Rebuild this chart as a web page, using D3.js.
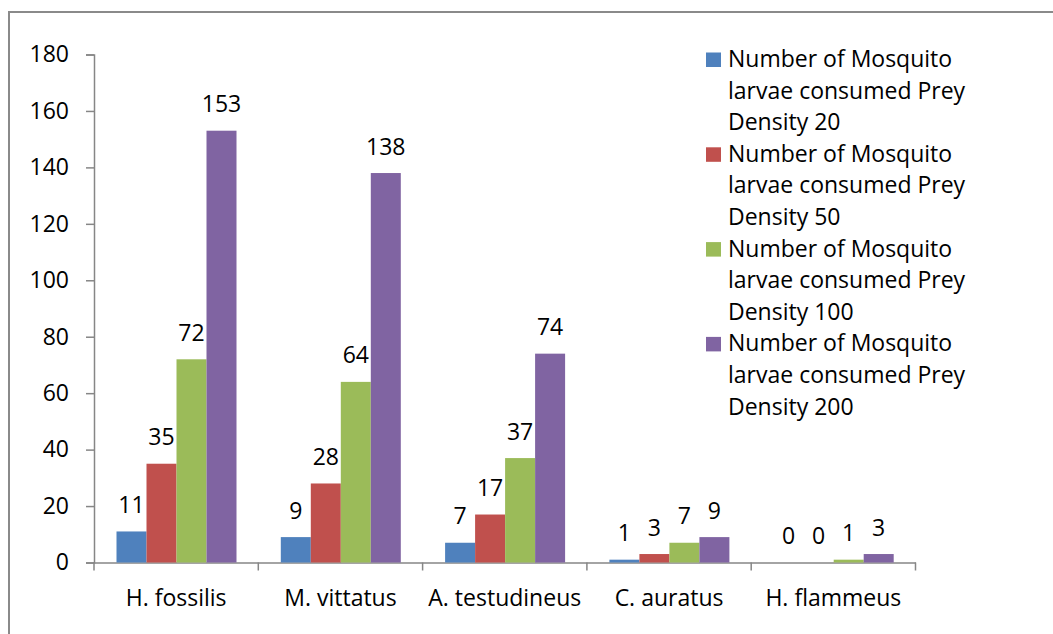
<!DOCTYPE html>
<html>
<head>
<meta charset="utf-8">
<script src="https://cdn.jsdelivr.net/npm/d3@7"></script>
<style>
  body { margin: 0; background: #fff; }
  text { font-family: "Open Sans", sans-serif; fill: #000; }
</style>
</head>
<body>
<script>
// chart data
var species = ["H. fossilis", "M. vittatus", "A. testudineus", "C. auratus", "H. flammeus"];
var seriesNames = [
  "Number of Mosquito larvae consumed Prey Density 20",
  "Number of Mosquito larvae consumed Prey Density 50",
  "Number of Mosquito larvae consumed Prey Density 100",
  "Number of Mosquito larvae consumed Prey Density 200"
];
var density20 = [11, 9, 7, 1, 0];
var density50 = [35, 28, 17, 3, 0];
var density100 = [72, 64, 37, 7, 1];
var density200 = [153, 138, 74, 9, 3];
var yTicks = [0, 20, 40, 60, 80, 100, 120, 140, 160, 180];

var colors = ["#4F81BD", "#C0504D", "#9BBB59", "#8064A2"];
var seriesValues = [density20, density50, density100, density200];

var svgWidth = 1053, svgHeight = 634;
var svg = d3.select("body").append("svg")
  .attr("width", svgWidth)
  .attr("height", svgHeight);

// outer frame (only top and left edges visible)
svg.append("path")
  .attr("d", "M9,634V12H1053")
  .attr("fill", "none")
  .attr("stroke", "#8a8a8a")
  .attr("stroke-width", 2);

var plot = { left: 94, right: 915.5, top: 54.5, bottom: 562.5 };

var x0 = d3.scaleBand().domain(species).range([plot.left, plot.right]);
var x1 = d3.scaleBand().domain(d3.range(4)).range([22.5, 142.5]);
var y = d3.scaleLinear().domain([0, 180]).range([plot.bottom, plot.top]);

var fontSize = 23;

// y axis
var yAxis = svg.append("g")
  .attr("transform", `translate(${plot.left},0)`)
  .call(d3.axisLeft(y).tickValues(yTicks).tickSize(8).tickPadding(17));
yAxis.select(".domain").attr("stroke", "#868686").attr("stroke-width", 1.5);
yAxis.selectAll(".tick line").attr("stroke", "#868686").attr("stroke-width", 1.5);
yAxis.selectAll(".tick text")
  .style("font-family", "'Open Sans', sans-serif")
  .style("font-size", fontSize + "px")
  .attr("fill", "#000");

// x axis
var xAxis = svg.append("g")
  .attr("transform", `translate(0,${plot.bottom})`)
  .call(d3.axisBottom(x0).tickSize(0).tickPadding(0));
xAxis.select(".domain").attr("stroke", "#868686").attr("stroke-width", 1.5);
xAxis.selectAll(".tick text")
  .attr("y", 0)
  .attr("dy", "43px")
  .style("font-family", "'Open Sans', sans-serif")
  .style("font-size", fontSize + "px")
  .attr("fill", "#000");
// category separators
xAxis.selectAll(".sep")
  .data(d3.range(species.length + 1))
  .enter().append("line")
  .attr("x1", i => plot.left + i * x0.step())
  .attr("x2", i => plot.left + i * x0.step())
  .attr("y1", 0).attr("y2", 8)
  .attr("stroke", "#868686").attr("stroke-width", 1.5);

// bars
var groups = svg.selectAll(".group")
  .data(species)
  .enter().append("g")
  .attr("transform", d => `translate(${x0(d)},0)`);

groups.selectAll("rect")
  .data((d, i) => seriesValues.map((s, k) => ({ k: k, v: s[i] })))
  .enter().append("rect")
  .attr("x", d => x1(d.k))
  .attr("width", x1.bandwidth())
  .attr("y", d => y(d.v))
  .attr("height", d => y(0) - y(d.v))
  .attr("fill", d => colors[d.k]);

groups.selectAll(".lbl")
  .data((d, i) => seriesValues.map((s, k) => ({ k: k, v: s[i] })))
  .enter().append("text")
  .attr("class", "lbl")
  .attr("x", d => x1(d.k) + x1.bandwidth() / 2)
  .attr("y", d => y(d.v) - 18.5)
  .attr("text-anchor", "middle")
  .style("font-size", fontSize + "px")
  .text(d => d.v);

// legend
var legend = svg.append("g");
var lineH = 31.6;
seriesNames.forEach(function(name, k) {
  var top = 67 + k * 3 * lineH;
  legend.append("rect")
    .attr("x", 706).attr("y", top - 14.5)
    .attr("width", 15).attr("height", 14.5)
    .attr("fill", colors[k]);
  var lines = ["Number of Mosquito", "larvae consumed Prey", name.replace("Number of Mosquito larvae consumed Prey ", "")];
  var t = legend.append("text")
    .attr("x", 728).attr("y", top)
    .style("font-size", fontSize + "px");
  lines.forEach(function(l, j) {
    t.append("tspan").attr("x", 728).attr("y", top + j * lineH).text(l);
  });
});
</script>
</body>
</html>
